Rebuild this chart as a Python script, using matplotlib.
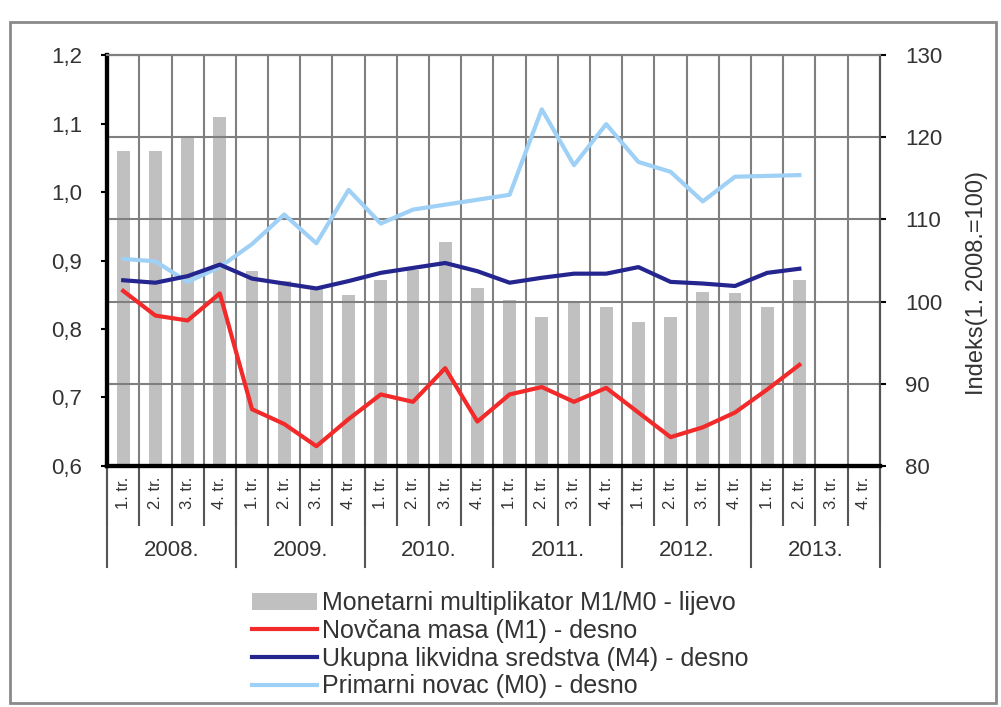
import matplotlib.pyplot as plt
import matplotlib.transforms as mtransforms
from matplotlib.patches import Rectangle
import numpy as np

plt.rcParams['font.family'] = ['Liberation Sans', 'DejaVu Sans']

# quarters 2008 - 2013
years = ['2008.', '2009.', '2010.', '2011.', '2012.', '2013.']
quarters = ['1. tr.', '2. tr.', '3. tr.', '4. tr.']

# monetary multiplier M1/M0 (left axis)
multiplier = [1.06, 1.06, 1.08, 1.11,
              0.885, 0.87, 0.86, 0.85,
              0.872, 0.886, 0.927, 0.86,
              0.842, 0.818, 0.84, 0.832,
              0.81, 0.818, 0.854, 0.852,
              0.832, 0.872]

# indices, 1. 2008. = 100 (right axis)
m1 = [101.3, 98.3, 97.7, 101.0,
      86.9, 85.1, 82.4, 85.7,
      88.7, 87.8, 91.9, 85.4,
      88.7, 89.6, 87.8, 89.5,
      86.5, 83.5, 84.7, 86.5,
      89.3, 92.3]
m4 = [102.6, 102.3, 103.1, 104.5,
      102.8, 102.2, 101.6, 102.5,
      103.5, 104.1, 104.7, 103.7,
      102.3, 102.9, 103.4, 103.4,
      104.2, 102.4, 102.2, 101.9,
      103.5, 104.0]
m0 = [105.2, 104.9, 102.4, 104.2,
      107.0, 110.6, 107.1, 113.6,
      109.5, 111.2, 111.8, 112.4,
      113.0, 123.4, 116.6, 121.6,
      117.0, 115.8, 112.2, 115.2,
      115.3, 115.4]

labels = [q for y in years for q in quarters]
n = len(labels)
x = np.arange(n)
xd = np.arange(len(m1))

fig = plt.figure(figsize=(10.01, 7.07), dpi=100)
ax = fig.add_axes([0.107, 0.341, 0.772, 0.581])
ax2 = ax.twinx()

txt = '#333333'
grid_c = '#7f7f7f'
sep_c = '#555555'

bars = ax.bar(np.arange(len(multiplier)), multiplier, width=0.4, color='#c0c0c0',
              zorder=2, label='Monetarni multiplikator M1/M0 - lijevo')
ax.set_ylim(0.6, 1.2)
ax.set_yticks(np.arange(0.6, 1.21, 0.1))
ax.set_yticklabels(['0,6', '0,7', '0,8', '0,9', '1,0', '1,1', '1,2'], fontsize=16, color=txt)
ax.set_xlim(-0.5, n - 0.5)

# quarter labels + separators below the axis
ax.set_xticks(x)
ax.set_xticklabels(labels, rotation=90, fontsize=12, color=txt)
ax.tick_params(axis='x', which='major', length=0, pad=8)
ax.set_xticks(np.arange(-0.5, n, 1), minor=True)
ax.tick_params(axis='x', which='minor', length=43, width=1.5, color=sep_c)
ax.grid(which='minor', axis='x', color=grid_c, lw=1.5, zorder=0)
ax.tick_params(axis='y', length=4, width=1.5, pad=14)

trans = mtransforms.blended_transform_factory(ax.transData, ax.transAxes)
for i, yl in enumerate(years):
    xb = i * 4 - 0.5
    ax.plot([xb, xb], [0, -0.245], transform=trans, color=sep_c, lw=1.5, clip_on=False)
    ax.text(i * 4 + 1.5, -0.205, yl, transform=trans, ha='center', va='center',
            fontsize=16, color=txt)
ax.plot([n - 0.5, n - 0.5], [0, -0.245], transform=trans, color=sep_c, lw=1.5, clip_on=False)

ax2.plot(xd, m0, color='#9fd0f5', lw=3, label='Primarni novac (M0) - desno', zorder=3)
ax2.plot(xd, m4, color='#25258f', lw=3, label='Ukupna likvidna sredstva (M4) - desno', zorder=4)
ax2.plot(xd, m1, color='#f22a2a', lw=3, label='Novčana masa (M1) - desno', zorder=5)
ax2.set_ylim(80, 130)
ax2.set_yticks(np.arange(80, 131, 10))
ax2.tick_params(axis='y', labelsize=16, labelcolor=txt, length=4, width=1.5, pad=14)
ax2.grid(axis='y', color=grid_c, lw=1.5)
ax2.set_ylabel('Indeks(1. 2008.=100)', fontsize=17, color=txt)
ax2.yaxis.set_label_coords(1.112, 0.445)

for a in (ax, ax2):
    a.spines['left'].set_linewidth(3)
    a.spines['left'].set_color('black')
    a.spines['bottom'].set_linewidth(3)
    a.spines['bottom'].set_color('black')
    a.spines['top'].set_color(grid_c)
    a.spines['top'].set_linewidth(1.5)
    a.spines['right'].set_color(sep_c)
    a.spines['right'].set_linewidth(1.5)

handles = [bars] + [ax2.lines[2], ax2.lines[1], ax2.lines[0]]
leg = fig.legend(handles, [h.get_label() for h in handles], loc='upper center',
                 bbox_to_anchor=(0.5, 0.178), frameon=False, fontsize=18,
                 labelspacing=0.15, handlelength=2.6, handletextpad=0.2,
                 handleheight=0.7, borderaxespad=0)
for t in leg.get_texts():
    t.set_color(txt)

# outer frame
fig.patches.append(Rectangle((0.01, 0.006), 0.985, 0.963, transform=fig.transFigure,
                             fill=False, edgecolor='#8a8a8a', lw=2))

fig.savefig('out.png', dpi=100)
